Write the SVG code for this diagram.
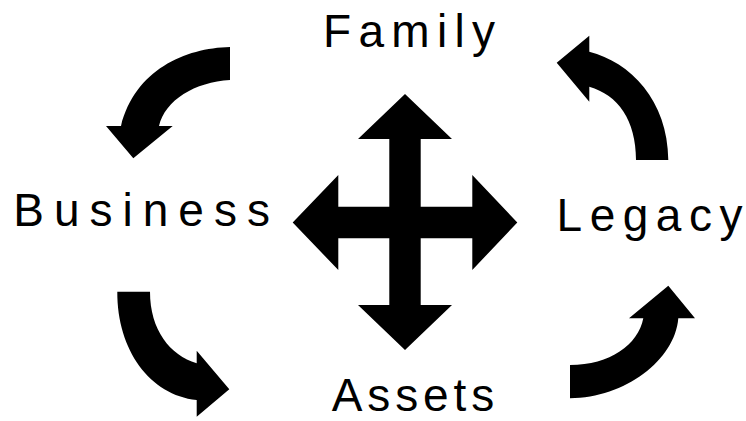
<svg xmlns="http://www.w3.org/2000/svg" width="746" height="421" viewBox="0 0 746 421">
  <style>
    .label { font-family: "Liberation Sans", Arial, sans-serif; font-size: 46px; fill: #000; }
    .arrow { fill: #000; stroke: none; }
  </style>
  <rect width="746" height="421" fill="#fff"/>

  <!-- four-way cross in the middle -->
  <g id="cross">
    <path class="arrow" d="M405,94 L452,139 L420.7,139 L420.7,206.7 L472.3,206.7 L472.3,175 L517.3,222.5 L472.3,270 L472.3,238.3 L420.7,238.3 L420.7,305 L452,305 L405,350 L358,305 L389.3,305 L389.3,238.3 L338.3,238.3 L338.3,270 L292.7,222.5 L338.3,175 L338.3,206.7 L389.3,206.7 L389.3,139 L358,139 Z"/>
  </g>

  <!-- curved cycle arrows -->
  <g id="connectors">
    <!-- Family -> Business -->
    <path class="arrow" d="M230,47 C185,48 135,70 121,126 L106,126 L133.3,158.3 L172.7,126 L159,126 C165,100 195,82 230,80 Z"/>
    <!-- Business -> Assets -->
    <path class="arrow" d="M117.3,291.7 C117,350 150,395 196.7,400 L196.7,416.7 L229.3,389.3 L196.7,350.7 L196.7,363.3 C170,355 150,330 150,291.7 Z"/>
    <!-- Assets -> Legacy -->
    <path class="arrow" d="M570,398.3 C625,398 675,360 678.3,318.3 L695,318.3 L668.3,285.7 L629,318.3 L643.3,318.3 C638,345 610,365 570,365 Z"/>
    <!-- Legacy -> Family -->
    <path class="arrow" d="M668.3,160 C668,100 630,62 589.3,51.7 L589.3,35.7 L556.7,62.7 L589.3,101.7 L589.3,86.7 C618,95 636,120 636,160 Z"/>
  </g>

  <!-- labels; the last letter carries no trailing spacing -->
  <g id="family">
    <text class="label" x="323" y="46.7" letter-spacing="7.3">Famil<tspan letter-spacing="0">y</tspan></text>
  </g>
  <g id="business">
    <text class="label" x="13.3" y="226" letter-spacing="10">Busines<tspan letter-spacing="0">s</tspan></text>
  </g>
  <g id="legacy">
    <text class="label" x="556.6" y="231" letter-spacing="7.5">Legac<tspan letter-spacing="0">y</tspan></text>
  </g>
  <g id="assets">
    <text class="label" x="331.7" y="411" letter-spacing="4.9">Asset<tspan letter-spacing="0">s</tspan></text>
  </g>
</svg>
